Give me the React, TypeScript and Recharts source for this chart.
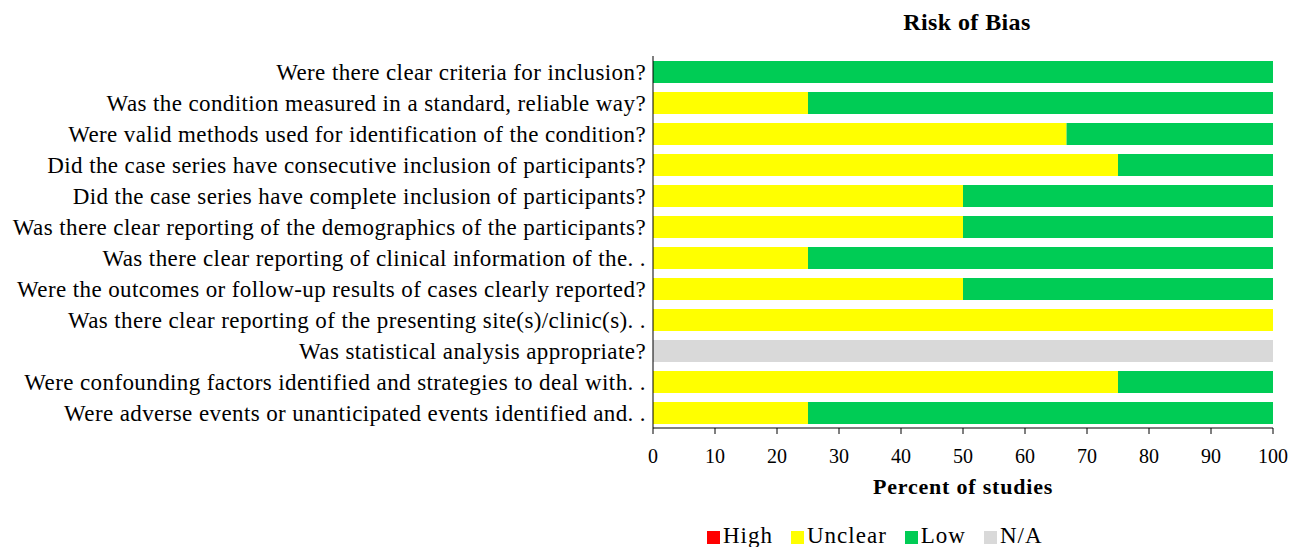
import { BarChart, Bar, XAxis, YAxis } from 'recharts';

const categories = [
  'Were there clear criteria for inclusion?',
  'Was the condition measured in a standard, reliable way?',
  'Were valid methods used for identification of the condition?',
  'Did the case series have consecutive inclusion of participants?',
  'Did the case series have complete inclusion of participants?',
  'Was there clear reporting of the demographics of the participants?',
  'Was there clear reporting of clinical information of the. .',
  'Were the outcomes or follow-up results of cases clearly reported?',
  'Was there clear reporting of the presenting site(s)/clinic(s). .',
  'Was statistical analysis appropriate?',
  'Were confounding factors identified and strategies to deal with. .',
  'Were adverse events or unanticipated events identified and. .',
];
const high = [0, 0, 0, 0, 0, 0, 0, 0, 0, 0, 0, 0];
const unclear = [0, 25, 66.7, 75, 50, 50, 25, 50, 100, 0, 75, 25];
const low = [100, 75, 33.3, 25, 50, 50, 75, 50, 0, 0, 25, 75];
const na = [0, 0, 0, 0, 0, 0, 0, 0, 0, 100, 0, 0];
const xTicks = [0, 10, 20, 30, 40, 50, 60, 70, 80, 90, 100];

const SERIES = [
  { key: 'high', name: 'High', color: '#ff0000' },
  { key: 'unclear', name: 'Unclear', color: '#ffff00' },
  { key: 'low', name: 'Low', color: '#00cc55' },
  { key: 'na', name: 'N/A', color: '#d9d9d9' },
];

const data = categories.map((name, i) => ({
  name,
  high: high[i],
  unclear: unclear[i],
  low: low[i],
  na: na[i],
}));

const FONT = '"Liberation Serif", "Times New Roman", serif';

export default function App() {
  return (
    <div style={{ position: 'absolute', left: 0, top: 0, width: 1300, height: 547, background: '#fff', fontFamily: FONT, color: '#000' }}>
      {/* title */}
      <div style={{ position: 'absolute', left: 817, width: 300, top: 10, lineHeight: '24px', textAlign: 'center', fontWeight: 'bold', fontSize: 24, letterSpacing: 0.4 }}>
        Risk of Bias
      </div>

      <BarChart
        width={1300}
        height={547}
        data={data}
        layout="vertical"
        margin={{ top: 56, right: 27, left: 0, bottom: 89 }}
        barSize={22}
      >
        <XAxis
          type="number"
          domain={[0, 100]}
          ticks={xTicks}
          interval={0}
          tick={{ fontSize: 20, fill: '#000', fontFamily: FONT }}
          tickSize={6}
          tickMargin={15}
          stroke="#000"
          height={30}
        />
        <YAxis
          type="category"
          dataKey="name"
          width={653}
          tickLine={false}
          tickMargin={1}
          interval={0}
          stroke="#000"
          tick={{ fontSize: 23, fill: '#000', fontFamily: FONT, letterSpacing: 0.4 }}
        />
        {SERIES.map(s => (
          <Bar key={s.key} dataKey={s.key} name={s.name} stackId="a" fill={s.color} isAnimationActive={false} />
        ))}
      </BarChart>

      {/* x axis title */}
      <div style={{ position: 'absolute', left: 763, width: 400, top: 475, lineHeight: '24px', textAlign: 'center', fontWeight: 'bold', fontSize: 22, letterSpacing: 0.8 }}>
        Percent of studies
      </div>

      {/* legend */}
      <div style={{ position: 'absolute', left: 707, top: 524, height: 24, display: 'flex', alignItems: 'center', fontSize: 23, letterSpacing: 1 }}>
        {SERIES.map(s => (
          <div key={s.key} style={{ display: 'flex', alignItems: 'center', marginRight: 18 }}>
            <span style={{ width: 13, height: 13, background: s.color, display: 'inline-block', marginRight: 3, marginTop: 2 }} />
            <span>{s.name}</span>
          </div>
        ))}
      </div>
    </div>
  );
}
